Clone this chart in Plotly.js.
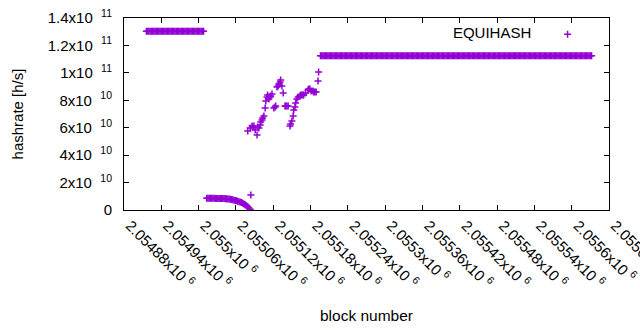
<!DOCTYPE html>
<html>
<head>
<meta charset="utf-8">
<script src="https://cdn.plot.ly/plotly-3.0.1.min.js"></script>
<style>html,body{margin:0;padding:0;background:#fff;} #chart{width:640px;height:330px;}</style>
</head>
<body>
<div id="chart"></div>
<script>
// ---- data (block number vs hashrate [h/s]) ----
// early flat run: starts at block 2054916, one point every 2 blocks
const earlyStart = 2054916;
const earlyValues = [
  1.303e11,1.303e11,1.303e11,1.303e11,1.303e11,1.303e11,1.303e11,1.303e11,1.303e11,1.303e11,
  1.303e11,1.303e11,1.303e11,1.303e11,1.303e11,1.303e11,1.303e11,1.303e11,1.303e11,1.303e11,
  1.303e11,1.303e11,1.303e11,1.303e11,1.303e11,1.303e11,1.303e11,1.303e11,1.303e11,1.303e11,
  1.303e11,1.303e11,1.303e11,1.303e11,1.303e11,1.303e11,1.303e11,1.303e11,1.303e11,1.303e11,
  1.303e11,1.303e11,1.303e11,1.303e11,1.303e11,1.303e11,1.303e11
];
// low run decaying to zero: starts at block 2055013, one point every 2 blocks
const lowStart = 2055013;
const lowValues = [
  8.5e9,8.5e9,8.5e9,8.5e9,8.5e9,8.5e9,8.5e9,8.4e9,8.4e9,8.4e9,
  8.4e9,8.4e9,8.3e9,8.3e9,8.3e9,8.2e9,8.2e9,
  8.1e9,8.0e9,7.8e9,7.6e9,7.4e9,7.2e9,7.0e9,6.7e9,6.4e9,6.1e9,
  5.8e9,5.5e9,5.0e9,4.4e9,3.8e9,3.1e9,2.3e9,1.4e9,0.5e9
];
// scattered transition points
const clusterBlocks = [
  2055079,2055083,2055084,2055086,2055087,2055089,2055091,2055094,2055095,2055097,
  2055099,2055100,2055102,2055103,2055105,2055107,2055108,2055110,2055111,2055113,
  2055115,2055116,2055118,2055121,2055123,2055124,2055126,2055128,2055129,2055131,
  2055132,2055134,2055136,2055139,2055140,2055142,2055144,2055147,2055148,2055150,
  2055152,2055153,2055155,2055156,2055158,2055160,2055163,2055164,2055166,2055168,
  2055169,2055172,2055176,2055177,2055179,2055181,2055184,2055185,2055187,2055189,
  2055192,2055193
];
const clusterValues = [
  5.76e10,5.98e10,1.09e10,6.13e10,6.05e10,6.13e10,5.83e10,5.47e10,6.05e10,5.98e10,
  6.20e10,6.42e10,6.56e10,6.71e10,6.85e10,7.44e10,7.95e10,8.24e10,8.39e10,8.09e10,
  8.24e10,8.31e10,8.46e10,7.44e10,7.51e10,7.58e10,8.97e10,9.04e10,9.19e10,9.33e10,
  9.48e10,9.04e10,8.53e10,7.58e10,7.58e10,7.58e10,7.58e10,6.13e10,6.27e10,6.49e10,
  6.85e10,7.29e10,7.51e10,7.80e10,8.09e10,8.24e10,8.31e10,8.39e10,8.39e10,8.39e10,
  8.39e10,8.53e10,8.75e10,8.82e10,8.82e10,8.68e10,8.68e10,8.60e10,8.60e10,8.60e10,
  9.41e10,1.006e11
];
// late flat run: starts at block 2055196, one point every 2 blocks
const lateStart = 2055196;
const lateValues = [
  1.125e11,1.125e11,1.125e11,1.125e11,1.125e11,1.125e11,1.125e11,1.125e11,1.125e11,1.125e11,
  1.125e11,1.125e11,1.125e11,1.125e11,1.125e11,1.125e11,1.125e11,1.125e11,1.125e11,1.125e11,
  1.125e11,1.125e11,1.125e11,1.125e11,1.125e11,1.125e11,1.125e11,1.125e11,1.125e11,1.125e11,
  1.125e11,1.125e11,1.125e11,1.125e11,1.125e11,1.125e11,1.125e11,1.125e11,1.125e11,1.125e11,
  1.125e11,1.125e11,1.125e11,1.125e11,1.125e11,1.125e11,1.125e11,1.125e11,1.125e11,1.125e11,
  1.125e11,1.125e11,1.125e11,1.125e11,1.125e11,1.125e11,1.125e11,1.125e11,1.125e11,1.125e11,
  1.125e11,1.125e11,1.125e11,1.125e11,1.125e11,1.125e11,1.125e11,1.125e11,1.125e11,1.125e11,
  1.125e11,1.125e11,1.125e11,1.125e11,1.125e11,1.125e11,1.125e11,1.125e11,1.125e11,1.125e11,
  1.125e11,1.125e11,1.125e11,1.125e11,1.125e11,1.125e11,1.125e11,1.125e11,1.125e11,1.125e11,
  1.125e11,1.125e11,1.125e11,1.125e11,1.125e11,1.125e11,1.125e11,1.125e11,1.125e11,1.125e11,
  1.125e11,1.125e11,1.125e11,1.125e11,1.125e11,1.125e11,1.125e11,1.125e11,1.125e11,1.125e11,
  1.125e11,1.125e11,1.125e11,1.125e11,1.125e11,1.125e11,1.125e11,1.125e11,1.125e11,1.125e11,
  1.125e11,1.125e11,1.125e11,1.125e11,1.125e11,1.125e11,1.125e11,1.125e11,1.125e11,1.125e11,
  1.125e11,1.125e11,1.125e11,1.125e11,1.125e11,1.125e11,1.125e11,1.125e11,1.125e11,1.125e11,
  1.125e11,1.125e11,1.125e11,1.125e11,1.125e11,1.125e11,1.125e11,1.125e11,1.125e11,1.125e11,
  1.125e11,1.125e11,1.125e11,1.125e11,1.125e11,1.125e11,1.125e11,1.125e11,1.125e11,1.125e11,
  1.125e11,1.125e11,1.125e11,1.125e11,1.125e11,1.125e11,1.125e11,1.125e11,1.125e11,1.125e11,
  1.125e11,1.125e11,1.125e11,1.125e11,1.125e11,1.125e11,1.125e11,1.125e11,1.125e11,1.125e11,
  1.125e11,1.125e11,1.125e11,1.125e11,1.125e11,1.125e11,1.125e11,1.125e11,1.125e11,1.125e11,
  1.125e11,1.125e11,1.125e11,1.125e11,1.125e11,1.125e11,1.125e11,1.125e11,1.125e11,1.125e11,
  1.125e11,1.125e11,1.125e11,1.125e11,1.125e11,1.125e11,1.125e11,1.125e11,1.125e11,1.125e11,
  1.125e11,1.125e11,1.125e11,1.125e11,1.125e11,1.125e11,1.125e11,1.125e11,1.125e11
];

// ---- axis ticks ----
const xTickVals = [2054880,2054940,2055000,2055060,2055120,2055180,2055240,2055300,2055360,2055420,2055480,2055540,2055600,2055660];
const xTickText = ['2.05488x10 <sup>6</sup>','2.05494x10 <sup>6</sup>','2.055x10 <sup>6</sup>','2.05506x10 <sup>6</sup>','2.05512x10 <sup>6</sup>','2.05518x10 <sup>6</sup>','2.05524x10 <sup>6</sup>','2.0553x10 <sup>6</sup>','2.05536x10 <sup>6</sup>','2.05542x10 <sup>6</sup>','2.05548x10 <sup>6</sup>','2.05554x10 <sup>6</sup>','2.0556x10 <sup>6</sup>','2.05566x10 <sup>6</sup>'];
const yTickVals = [0,2e10,4e10,6e10,8e10,1e11,1.2e11,1.4e11];
const yTickText = ['0','2x10&nbsp;&nbsp;<sup>10</sup>','4x10&nbsp;&nbsp;<sup>10</sup>','6x10&nbsp;&nbsp;<sup>10</sup>','8x10&nbsp;&nbsp;<sup>10</sup>','1x10&nbsp;&nbsp;<sup>11</sup>','1.2x10&nbsp;&nbsp;<sup>11</sup>','1.4x10&nbsp;&nbsp;<sup>11</sup>'];

const COLOR = '#9400D3';
const FONT = 'Liberation Sans, Arial, sans-serif';
const mk = {symbol:'cross-thin-open', size:5, color:COLOR, line:{color:COLOR, width:1.5}};

const traces = [
  {type:'scatter', mode:'markers', x0:earlyStart, dx:2, y:earlyValues, marker:mk, name:' ', showlegend:true},
  {type:'scatter', mode:'markers', x0:lowStart, dx:2, y:lowValues, marker:mk, showlegend:false},
  {type:'scatter', mode:'markers', x:clusterBlocks, y:clusterValues, marker:mk, showlegend:false},
  {type:'scatter', mode:'markers', x0:lateStart, dx:2, y:lateValues, marker:mk, showlegend:false}
];

const layout = {
  width:640, height:330,
  margin:{l:124, r:31, t:18, b:120},
  paper_bgcolor:'#fff', plot_bgcolor:'#fff',
  font:{family:FONT, size:15, color:'#000'},
  showlegend:true,
  legend:{
    x:0.975, y:1.0, xanchor:'right', yanchor:'top',
    bgcolor:'rgba(0,0,0,0)', borderwidth:0,
    title:{text:'EQUIHASH&nbsp;&nbsp;', side:'left', font:{family:FONT, size:15}},
    font:{family:FONT, size:15}
  },
  xaxis:{
    range:[2054880, 2055660], tickmode:'array', tickvals:xTickVals, ticktext:xTickText,
    tickangle:45, ticks:'inside', ticklen:5, tickcolor:'#000', showline:true, linecolor:'#000', linewidth:1,
    mirror:'ticks', showgrid:false, zeroline:false, ticklabelshift:6, ticklabeloverflow:'allow',
    tickfont:{family:FONT, size:15},
    title:{text:'block number', standoff:19, font:{family:FONT, size:15.5}}
  },
  yaxis:{
    range:[0, 1.4e11], tickmode:'array', tickvals:yTickVals, ticktext:yTickText,
    ticks:'inside', ticklen:5, tickcolor:'#000', showline:true, linecolor:'#000', linewidth:1,
    mirror:'ticks', showgrid:false, zeroline:false, ticklabelstandoff:8,
    tickfont:{family:FONT, size:15},
    title:{text:'hashrate [h/s]', standoff:20, font:{family:FONT, size:15}}
  }
};

Plotly.newPlot('chart', traces, layout, {staticPlot:true, displayModeBar:false});
</script>
</body>
</html>
